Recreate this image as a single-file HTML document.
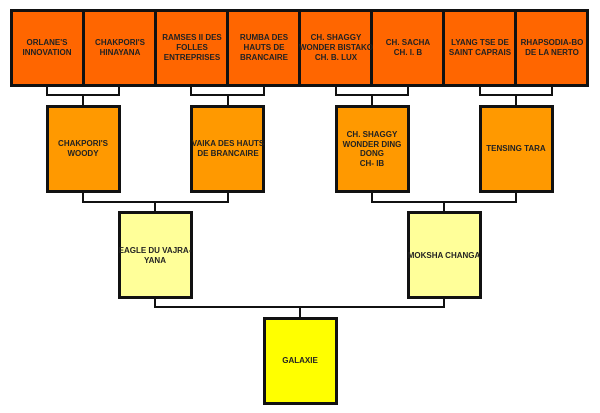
<!DOCTYPE html>
<html><head><style>
html,body{margin:0;padding:0;background:#fff;}
svg{display:block}
text{font-family:"Liberation Sans",Arial,sans-serif;font-weight:bold;font-size:8px;fill:#222;text-anchor:middle}
</style></head><body>
<svg width="600" height="413" viewBox="0 0 600 413">
<g fill="none" stroke="#111" stroke-width="2">
<path d="M47 86V95H119V86M83 95V106"/>
<path d="M191 86V95H264V86M228 95V106"/>
<path d="M336 86V95H408V86M372 95V106"/>
<path d="M480 86V95H552V86M516 95V106"/>
<path d="M83 191V202H228V191M155 202V212"/>
<path d="M372 191V202H516V191M444 202V212"/>
<path d="M155 297V307H444V297M300 307V318"/>
</g>
<g stroke="#111" stroke-width="3">
<rect x="11.5" y="10.5" width="72" height="75" fill="#ff6600"/>
<rect x="83.5" y="10.5" width="72" height="75" fill="#ff6600"/>
<rect x="155.5" y="10.5" width="72" height="75" fill="#ff6600"/>
<rect x="227.5" y="10.5" width="72" height="75" fill="#ff6600"/>
<rect x="299.5" y="10.5" width="72" height="75" fill="#ff6600"/>
<rect x="371.5" y="10.5" width="72" height="75" fill="#ff6600"/>
<rect x="443.5" y="10.5" width="72" height="75" fill="#ff6600"/>
<rect x="515.5" y="10.5" width="72" height="75" fill="#ff6600"/>
<rect x="47.5" y="106.5" width="72" height="85" fill="#ff9900"/>
<rect x="191.5" y="106.5" width="72" height="85" fill="#ff9900"/>
<rect x="336.5" y="106.5" width="72" height="85" fill="#ff9900"/>
<rect x="480.5" y="106.5" width="72" height="85" fill="#ff9900"/>
<rect x="119.5" y="212.5" width="72" height="85" fill="#ffff99"/>
<rect x="408.5" y="212.5" width="72" height="85" fill="#ffff99"/>
<rect x="264.5" y="318.5" width="72" height="85" fill="#ffff00"/>
</g>
<text x="47" y="45">ORLANE'S</text><text x="47" y="55">INNOVATION</text>
<text x="120" y="45">CHAKPORI'S</text><text x="120" y="55">HINAYANA</text>
<text x="192" y="40">RAMSES II DES</text><text x="192" y="50">FOLLES</text><text x="192" y="60">ENTREPRISES</text>
<text x="264" y="40">RUMBA DES</text><text x="264" y="50">HAUTS DE</text><text x="264" y="60">BRANCAIRE</text>
<text x="336" y="40">CH. SHAGGY</text><text x="336" y="50">WONDER BISTAKO</text><text x="336" y="60">CH. B. LUX</text>
<text x="408" y="45">CH. SACHA</text><text x="408" y="55">CH. I. B</text>
<text x="480" y="45">LYANG TSE DE</text><text x="480" y="55">SAINT CAPRAIS</text>
<text x="552" y="45">RHAPSODIA-BO</text><text x="552" y="55">DE LA NERTO</text>
<text x="83" y="146">CHAKPORI'S</text><text x="83" y="156">WOODY</text>
<text x="228" y="146">VAIKA DES HAUTS</text><text x="228" y="156">DE BRANCAIRE</text>
<text x="372" y="137">CH. SHAGGY</text><text x="372" y="147">WONDER DING</text><text x="372" y="156">DONG</text><text x="372" y="166">CH- IB</text>
<text x="516" y="151">TENSING TARA</text>
<text x="155" y="253">EAGLE DU VAJRA-</text><text x="155" y="263">YANA</text>
<text x="444" y="258">MOKSHA CHANGA</text>
<text x="300" y="363">GALAXIE</text>
</svg>
</body></html>
